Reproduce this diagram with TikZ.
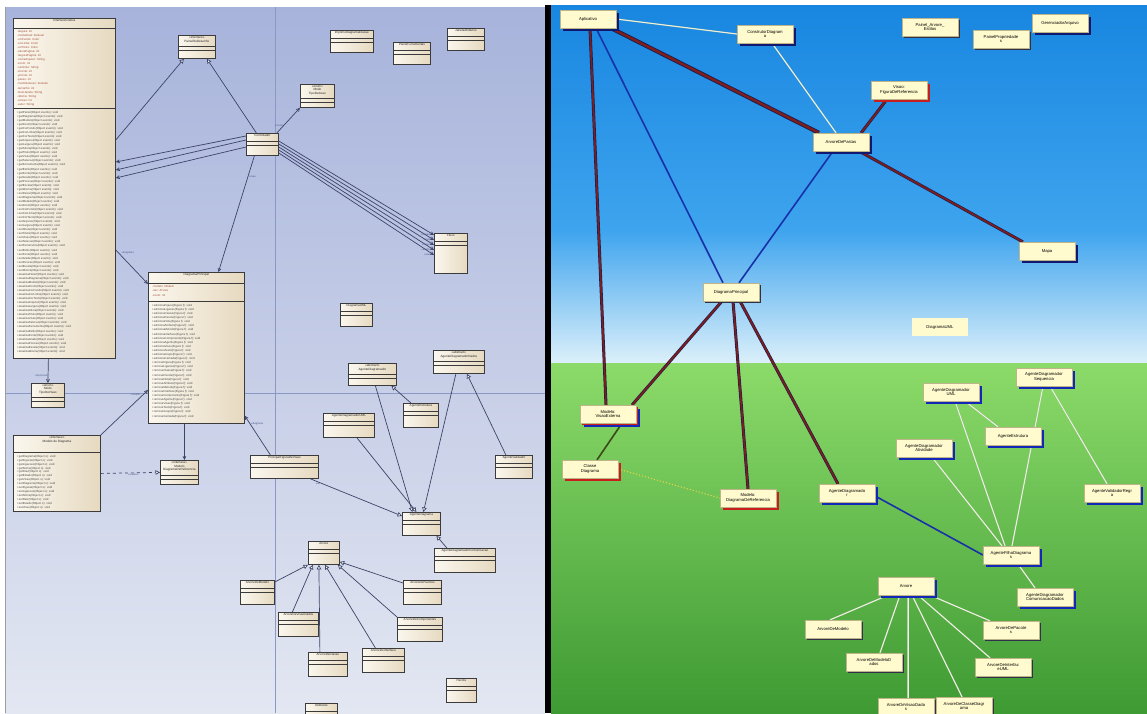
\documentclass[tikz,border=0pt]{standalone}
\usepackage{fontspec}
\setmainfont{Liberation Sans}
\usetikzlibrary{arrows.meta, positioning, calc, shadows}

\pgfdeclarelayer{bg}
\pgfdeclarelayer{edges}
\pgfsetlayers{bg,edges,main}

\definecolor{panelTop}{HTML}{A7B3DB}
\definecolor{panelBot}{HTML}{E3E7F2}
\definecolor{pageLine}{HTML}{8C98C4}
\definecolor{umlA}{HTML}{FBF7EE}
\definecolor{umlB}{HTML}{E6D9C0}
\definecolor{umlLine}{HTML}{3B3B3B}
\definecolor{umlEdge}{HTML}{3C4466}
\definecolor{attrText}{HTML}{A0503C}
\definecolor{operText}{HTML}{4A4A4A}
\definecolor{roleText}{HTML}{4A5A8A}
\definecolor{skyTop}{HTML}{1886E0}
\definecolor{skyMid}{HTML}{3EA4EE}
\definecolor{skyLow}{HTML}{DCF0FA}
\definecolor{grassTop}{HTML}{8CDB6A}
\definecolor{grassLow}{HTML}{3E9A33}
\definecolor{noteFill}{HTML}{FFFBCF}
\definecolor{noteEdge}{HTML}{BDB48A}
\definecolor{shBlue}{HTML}{1428B8}
\definecolor{shNavy}{HTML}{101870}
\definecolor{shRed}{HTML}{C81E1E}
\definecolor{shDark}{HTML}{303048}
\definecolor{tubeRed}{HTML}{7A1E1E}
\definecolor{tubeEdge}{HTML}{1A1A50}
\definecolor{tubeBlue}{HTML}{1830A8}
\definecolor{paleLine}{HTML}{F4F8EC}
\definecolor{paleEdge}{HTML}{B8C8A8}
\definecolor{mossLine}{HTML}{3A4A18}
\definecolor{dotYellow}{HTML}{E8D24A}

% name, x, y, width, height, header height, title
\newcommand{\umlclass}[7]{%
  \node[umlbox, minimum width=#4pt, minimum height=#5pt] (#1) at (#2,#3) {};
  \node[umltitle] (#1-title) at ([yshift=-0.8pt]#1.north) {#7};
  \draw[umlrule] ([yshift=-#6pt]#1.north west) -- ([yshift=-#6pt]#1.north east);}
\newcommand{\umlsep}[2]{%
  \draw[umlrule] ([yshift=-#2pt]#1.north west) -- ([yshift=-#2pt]#1.north east);}

\begin{document}
\begin{tikzpicture}[x=1pt, y=-1pt,
  umlbox/.style={rectangle, draw=umlLine, line width=0.8pt, anchor=north west, inner sep=0pt, left color=umlA, right color=umlB},
  umltitle/.style={anchor=north, inner sep=0.6pt, align=center, font=\fontsize{3.1}{3.5}\selectfont, text=black!85},
  umlrule/.style={draw=umlLine, line width=0.6pt},
  attr/.style={anchor=north west, inner sep=0pt, font=\fontsize{2.9}{3}\selectfont, text=attrText},
  oper/.style={attr, text=operText},
  assoc/.style={draw=umlEdge, line width=0.7pt, -{Straight Barb[length=3pt, width=3pt]}},
  gen/.style={draw=umlEdge, line width=0.7pt, -{Triangle[open, length=4.5pt, width=4.5pt, fill=white]}},
  realize/.style={gen, dashed},
  role/.style={font=\fontsize{2.6}{3}\selectfont, text=roleText, inner sep=0.5pt},
  vnode/.style={rectangle, fill=noteFill, draw=noteEdge, line width=0.3pt, minimum width=56pt, minimum height=18pt, inner sep=1pt, align=center, font=\fontsize{4.2}{4.8}\selectfont},
  vplain/.style={vnode, draw=none},
  shblue/.style={vnode, general shadow={fill=shBlue, shadow xshift=2.5pt, shadow yshift=-2.5pt}},
  shnavy/.style={vnode, general shadow={fill=shNavy, shadow xshift=2.5pt, shadow yshift=-2.5pt}},
  shred/.style={vnode, general shadow={fill=shRed, shadow xshift=2.5pt, shadow yshift=-2.5pt}},
  shdark/.style={vnode, general shadow={fill=shDark, shadow xshift=2pt, shadow yshift=-2pt}},
  shmixed/.style={vnode, general shadow={fill=shBlue, shadow xshift=3.5pt, shadow yshift=-3.5pt}, general shadow={fill=shRed, shadow xshift=2pt, shadow yshift=-2pt}},
  tubered/.style={draw=tubeEdge, line width=3pt, postaction={draw=tubeRed, line width=1.8pt}},
  tubewide/.style={draw=tubeEdge, line width=4.2pt, postaction={draw=tubeRed, line width=2.6pt}},
  tubeblue/.style={draw=tubeBlue, line width=1.6pt},
  pale/.style={draw=paleEdge, line width=1.3pt, postaction={draw=paleLine, line width=0.7pt}},
  mossy/.style={draw=mossLine, line width=1.6pt},
  dotline/.style={draw=dotYellow, line width=1.1pt, dotted}]

\useasboundingbox (0,0) rectangle (1147,713);

\begin{pgfonlayer}{bg}
  \fill[white] (0,0) rectangle (1147,713);
  \shade[top color=panelTop, bottom color=panelBot] (5,7) rectangle (545,713);
  \draw[pageLine, line width=0.6pt] (275,7) -- (275,713);
  \draw[pageLine, line width=0.6pt] (5,393) -- (545,393);
  \draw[umlLine!50, line width=0.6pt] (5,7) -- (5,713);
  \shade[top color=skyTop, bottom color=skyMid] (551,5) rectangle (1147,230);
  \shade[top color=skyMid, bottom color=skyLow] (551,230) rectangle (1147,363);
  \shade[top color=grassTop, bottom color=grassLow] (551,363) rectangle (1147,713);
  \fill[black] (545,5) rectangle (551,713);
\end{pgfonlayer}

% class diagram
\umlclass{gui}{13}{18}{102}{340}{10}{InterfaceGrafica}
\umlsep{gui}{90}
\foreach \a [count=\i from 0] in {-largura: int, -modoAtual: boolean, -corFundo: Color, -corLinha: Color,
    -corTexto: Color, -alturaPagina: int, -larguraPagina: int, -nomeArquivo: String, -zoom: int,
    -caminho: String, -xInicial: int, -yInicial: int, -passo: int, -modoSelecao: boolean,
    -tamanho: int, -tituloJanela: String, -idioma: String, -versao: int, -autor: String}
  \node[attr] (gui-a\i) at ($(gui.north west)+(4,{12+4.05*\i})$) {\a};
\foreach \p [count=\j from 0] in {get, set, atualiza}
  \foreach \m [count=\i from 0] in {Painel, Diagrama, Modelo, Zoom, CorFundo, CorLinha, CorTexto,
      Arquivo, Largura, Altura, Titulo, Visao, Selecao, Ferramenta, Estilo, Fonte, Grade,
      Posicao, Escala, Idioma}
    \node[oper] (gui-m\j-\i) at ($(gui.north west)+(4,{93+4.05*(20*\j+\i)})$) {+\p\m(Object evento): void};

\umlclass{canvas}{178}{35}{37}{23}{11}{«interface»\\PainelDeDesenho}
\umlsep{canvas}{15}
\umlclass{printDlg}{330}{30}{43}{22}{8}{ImprimeDiagramaClasse}
\umlsep{printDlg}{12}
\umlclass{toolbox}{393}{42}{37}{22}{8}{PainelFerramentas}
\umlsep{toolbox}{12}
\umlclass{attrDlg}{447}{28}{37}{22}{8}{JanelaAtributos}
\umlsep{attrDlg}{12}
\umlclass{mode}{300}{84}{34}{23}{14}{«enum»\\Modo\\TipoDeAcao}
\umlsep{mode}{18}
\umlclass{ctrl}{246}{133}{32}{22}{8}{Controlador}
\umlsep{ctrl}{12}
\umlclass{flow}{434}{233}{33}{40}{8}{Fluxo}
\umlsep{flow}{12}

\umlclass{diag}{148}{272}{96}{151}{11}{DiagramaPrincipal}
\umlsep{diag}{29}
\foreach \a [count=\i from 0] in {-modelo: Modelo, -raiz: Arvore, -zoom: int}
  \node[attr] (diag-a\i) at ($(diag.north west)+(4,{13+4.5*\i})$) {\a};
\foreach \p [count=\j from 0] in {adiciona, remove}
  \foreach \m [count=\i from 0] in {Figura, Ligacao, Classe, Pacote, Nota, Atributo, Metodo,
      Interface, Componente, Agente, Visao, Texto, Grupo, Camada}
    \node[oper] (diag-m\j-\i) at ($(diag.north west)+(4,{32+4.1*(14*\j+\i)})$) {+\p\m(Figura f): void};

\umlclass{umlview}{340}{303}{32}{23}{8}{DiagramaUML}
\umlsep{umlview}{12}
\umlclass{vmode}{31}{383}{33}{24}{14}{«enum»\\Modo\\TipoDeVisao}
\umlsep{vmode}{18}

\umlclass{model}{13}{435}{87}{76}{17}{«interface»\\Modelo de Diagrama}
\foreach \p [count=\j from 0] in {get, set}
  \foreach \m [count=\i from 0] in {Diagrama, Figuras, Ligacoes, Nome, Raiz, Estado, Visao}
    \node[oper] (model-m\j-\i) at ($(model.north west)+(4,{20+3.9*(7*\j+\i)})$) {+\p\m(Object o): void};

\umlclass{ref}{160}{460}{38}{24}{15}{«interface»\\Modelo\\DiagramaDeReferencia}
\umlsep{ref}{19}
\umlclass{fig}{250}{455}{68}{23}{8}{PrincipalFiguraDeVisao}
\umlsep{fig}{12}
\umlclass{agA}{348}{363}{48}{22}{11}{«abstract»\\AgenteDiagramador}
\umlsep{agA}{15}
\umlclass{agB}{433}{350}{51}{23}{11}{«abstract»\\AgenteDiagramadorDados}
\umlsep{agB}{15}
\umlclass{agStruct}{403}{403}{35}{24}{8}{AgenteEstrutura}
\umlsep{agStruct}{12}
\umlclass{agUml}{323}{413}{51}{24}{8}{AgenteDiagramadorUML}
\umlsep{agUml}{12}
\umlclass{agCheck}{495}{455}{37}{23}{8}{AgenteValidador}
\umlsep{agCheck}{12}
\umlclass{agent}{402}{512}{38}{23}{8}{AgenteDiagrama}
\umlsep{agent}{12}
\umlclass{agComm}{434}{548}{61}{24}{8}{AgenteDiagramadorComunicacao}
\umlsep{agComm}{12}

\umlclass{arv}{308}{541}{31}{23}{8}{Arvore}
\umlsep{arv}{12}
\umlclass{arvModel}{240}{580}{34}{24}{8}{ArvoreDeModelo}
\umlsep{arvModel}{12}
\umlclass{arvData}{278}{612}{40}{24}{8}{ArvoreDeVisaoDados}
\umlsep{arvData}{12}
\umlclass{arvClass}{308}{652}{39}{24}{8}{ArvoreDeClasse}
\umlsep{arvClass}{12}
\umlclass{arvIface}{362}{648}{42}{24}{8}{ArvoreDeInterface}
\umlsep{arvIface}{12}
\umlclass{arvPkg}{403}{580}{38}{24}{8}{ArvoreDePacotes}
\umlsep{arvPkg}{12}
\umlclass{arvComp}{397}{617}{45}{24}{8}{ArvoreDeComponentes}
\umlsep{arvComp}{12}
\umlclass{pkg}{446}{678}{30}{24}{8}{Pacote}
\umlsep{pkg}{12}
\umlclass{util}{305}{703}{32}{16}{8}{Utilitarios}

% scene graph
\node[shnavy] (app) at (588,19) {Aplicativo};
\node[shnavy] (builder) at (765,34) {ConstrutorDiagram\\a};
\node[shdark] (treePanel) at (930,27) {Painel\_Arvore\_\\Estilos};
\node[shdark] (propPanel) at (1001,39) {PainelPropriedade\\s};
\node[shnavy] (fileMgr) at (1060,23) {GerenciadorArquivo};
\node[shred] (refView) at (899,90) {Visao:\\FiguraDeReferencia};
\node[shnavy] (folders) at (841,142) {ArvoreDePastas};
\node[shnavy] (map) at (1047,251) {Mapa};
\node[shdark] (mainDiag) at (731,292) {DiagramaPrincipal};
\node[vplain] (umlLabel) at (940,327) {DiagramaUML};
\node[shmixed] (extModel) at (608,414) {Modelo:\\VisaoExterna};
\node[shred] (classDiag) at (590,469) {Classe\\Diagrama};
\node[shred] (refModel) at (748,498) {Modelo:\\DiagramaDeReferencia};
\node[shblue] (agentMain) at (847,493) {AgenteDiagramado\\r};
\node[shblue] (agentUml) at (951,392) {AgenteDiagramador\\UML};
\node[shblue] (agentSeq) at (1044,377) {AgenteDiagramador\\Sequencia};
\node[shblue] (agentStruct) at (1013,436) {AgenteEstrutura};
\node[shblue] (agentAct) at (924,448) {AgenteDiagramador\\Atividade};
\node[shblue] (agentCheck) at (1112,493) {AgenteValidadorRegr\\a};
\node[shblue] (agentChild) at (1011,555) {AgenteFilhoDiagrama\\s};
\node[shblue] (agentData) at (1045,597) {AgenteDiagramador\\ComunicacaoDados};
\node[shblue] (tree) at (906,586) {Arvore};
\node[shdark] (treeModel) at (833,629) {ArvoreDeModelo};
\node[shdark] (treeData) at (874,662) {ArvoreDeModeloD\\ados};
\node[shdark] (treeView) at (906,707) {ArvoreDeVisaoDado\\s};
\node[shdark] (treeClass) at (964,706) {ArvoreDeClasseDiagr\\ama};
\node[shdark] (treePkg) at (1011,630) {ArvoreDePacote\\s};
\node[shdark] (treeIface) at (1003,667) {ArvoreDeInterfac\\eUML};

\begin{pgfonlayer}{edges}
  \draw[gen] ([yshift=-122pt]gui.north east) -- ([xshift=-13pt]canvas.south);
  \draw[gen] ([xshift=-6pt]ctrl.north) -- ([xshift=10pt]canvas.south);
  \draw[assoc] ([xshift=-2pt]ctrl.north east) -- node[role, pos=0.3, left] (r-modo) {+modo} (mode.south west);
  \foreach \a/\b in {3pt/144pt, 7pt/152pt, 14pt/160pt}
    \draw[assoc] ([yshift=-\a]ctrl.north west) -- ([yshift=-\b]gui.north east);
  \foreach \a/\b in {8pt/2pt, 11pt/7pt, 14pt/12pt, 17pt/17pt, 20pt/22pt}
    \draw[assoc] ([yshift=-\a]ctrl.north east) -- ([yshift=-\b]flow.north west);
  \foreach \r [count=\i] in {+entrada, +saida, +origem, +destino, +atual}
    \node[role, anchor=east] (flow-r\i) at ($(flow.north west)+(-2,{-3+5*\i})$) {\r};
  \draw[assoc] ([xshift=-8pt]ctrl.south) -- node[role, pos=0.18, right] (r-visao) {-visao} ([xshift=22pt]diag.north);
  \draw[assoc] ([yshift=-232pt]gui.north east) -- node[role, pos=0.15, above right] (r-diag) {+diagrama} ([yshift=-12pt]diag.north west);
  \draw[assoc] ([xshift=-16pt]gui.south) -- node[role, pos=0.7, left] (r-tipo) {+tipoVisao} (vmode.north);
  \draw[assoc] (model.north east) -- node[role, pos=0.85, above left] (r-modelo) {-modelo} ([yshift=-118pt]diag.north west);
  \draw[realize] (model.east) -- node[role, pos=0.55, below] (r-impl) {«realize»} (ref.west);
  \draw[assoc] ([xshift=-12pt]diag.south) -- ([xshift=5pt]ref.north);
  \draw[assoc] ([xshift=-14pt]fig.north) -- node[role, pos=0.8, right] (r-fig) {+diagrama} ([yshift=8pt]diag.south east);
  \draw[gen] ([xshift=26pt]fig.south) -- node[role, pos=0.08, below] (r-pai) {-pai} ([yshift=-4pt]agent.north west);
  \draw[gen] ([xshift=3pt]agA.south) -- ([xshift=-9pt]agent.north);
  \draw[gen] ([xshift=-10pt]agStruct.north) -- ([xshift=19pt]agA.south);
  \draw[gen] ([xshift=8pt]agUml.south) -- ([xshift=-5pt]agent.north);
  \draw[gen] ([xshift=-3pt]agB.south) -- ([xshift=2pt]agent.north);
  \draw[gen] ([xshift=-8pt]agCheck.north) -- ([xshift=8pt]agB.south);
  \draw[gen] ([xshift=-18pt]agComm.north) -- ([xshift=15pt]agent.south);
  \draw[gen] ([yshift=-2pt]arvModel.north east) -- (arv.south west);
  \draw[gen] ([xshift=-6pt]arvData.north) -- ([xshift=-11pt]arv.south);
  \draw[gen] ([xshift=-8pt]arvClass.north) -- ([xshift=-5pt]arv.south);
  \draw[gen] ([xshift=-8pt]arvIface.north) -- ([xshift=1pt]arv.south);
  \draw[gen] (arvComp.north west) -- ([xshift=-2pt]arv.south east);
  \draw[gen] ([yshift=-3pt]arvPkg.north west) -- ([yshift=3pt]arv.south east);

  \draw[pale] (app.east) -- (builder.west);
  \draw[pale] ([xshift=7pt]builder.south) -- ([xshift=-5pt]folders.north);
  \draw[tubewide] ([xshift=-5pt]app.south east) -- ([xshift=6pt]folders.north west);
  \draw[tubered] ([xshift=2pt]app.south) -- ([xshift=-2pt]extModel.north);
  \draw[tubeblue] ([xshift=8pt]app.south) -- ([xshift=-8pt]mainDiag.north);
  \draw[tubered] ([xshift=-8pt]folders.north east) -- ([xshift=-12pt]refView.south);
  \draw[tubered] ([xshift=-10pt]folders.south east) -- ([xshift=4pt]map.north west);
  \draw[tubeblue] ([xshift=-8pt]folders.south) -- ([xshift=8pt]mainDiag.north);
  \draw[tubered] ([xshift=-9pt]mainDiag.south) -- ([xshift=-4pt]extModel.north east);
  \draw[tubered] ([xshift=2pt]mainDiag.south) -- (refModel.north);
  \draw[tubered] ([xshift=9pt]mainDiag.south) -- ([xshift=-9pt]agentMain.north);
  \draw[mossy] ([xshift=14pt]extModel.south) -- ([xshift=7pt]classDiag.north);
  \draw[dotline] (classDiag.east) -- (refModel.west);
  \draw[tubeblue] ([yshift=-3pt]agentMain.east) -- (agentChild.west);
  \draw[pale] ([xshift=14pt]agentUml.south) -- ([xshift=-15pt]agentStruct.north);
  \draw[pale] ([xshift=4pt]agentUml.south) -- ([xshift=-6pt]agentChild.north);
  \draw[pale] ([xshift=-1pt]agentSeq.south) -- ([xshift=1pt]agentChild.north);
  \draw[pale] ([xshift=6pt]agentSeq.south) -- ([xshift=-5pt]agentCheck.north);
  \draw[pale] ([xshift=8pt]agentAct.south) -- ([xshift=-9pt]agentChild.north);
  \draw[pale] ([xshift=7pt]agentChild.south) -- ([xshift=-10pt]agentData.north);
  \draw[pale] ([xshift=-18pt]tree.south) -- ([xshift=-3pt]treeModel.north);
  \draw[pale] ([xshift=-6pt]tree.south) -- ([xshift=6pt]treeData.north);
  \draw[pale] ([xshift=2pt]tree.south) -- ([xshift=2pt]treeView.north);
  \draw[pale] ([xshift=6pt]tree.south) -- ([xshift=-2pt]treeClass.north);
  \draw[pale] ([xshift=12pt]tree.south) -- ([xshift=-13pt]treeIface.north);
  \draw[pale] ([xshift=24pt]tree.south) -- ([xshift=-21pt]treePkg.north);
\end{pgfonlayer}
\end{tikzpicture}
\end{document}
